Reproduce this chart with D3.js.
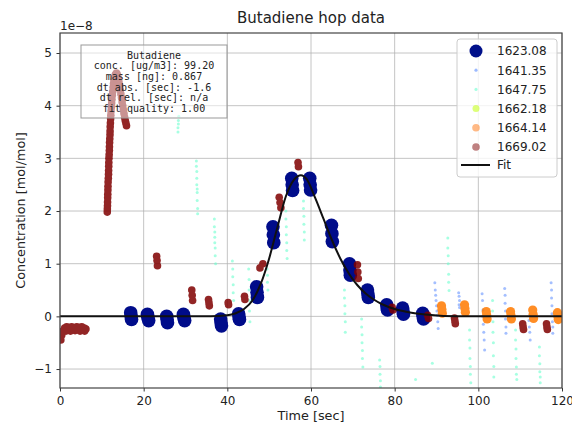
<!DOCTYPE html>
<html>
<head>
<meta charset="utf-8">
<script src="https://cdn.jsdelivr.net/npm/d3@7"></script>
<style>
  body { margin: 0; background: #fff; }
  svg text { font-family: "DejaVu Sans", sans-serif; fill: #222; }
</style>
</head>
<body>
<svg id="chart" width="572" height="427"></svg>
<script>
// values are in units of 1e-8 mol/mol, time in seconds

// 1623.08 - main peak, big navy markers
const s1623 = [
  [16.9,0.07],[17.0,0.0],[17.1,-0.06],
  [20.9,0.04],[21.0,-0.02],[21.2,-0.08],
  [25.5,0.0],[25.6,-0.06],[25.7,-0.12],
  [29.5,0.04],[29.6,-0.02],[29.8,-0.08],
  [38.4,-0.05],[38.5,-0.12],[38.6,-0.18],
  [42.7,0.05],[42.8,-0.01],[42.9,-0.06],
  [47.0,0.56],[47.1,0.46],[47.2,0.36],
  [50.9,1.7],[51.0,1.55],[51.1,1.4],
  [55.4,2.62],[55.5,2.5],[55.6,2.39],
  [59.7,2.62],[59.8,2.5],[59.9,2.4],
  [64.9,1.73],[65.0,1.57],[65.1,1.42],
  [69.2,1.0],[69.3,0.88],[69.4,0.78],
  [73.5,0.5],[73.6,0.43],[73.7,0.36],
  [78.1,0.22],[78.2,0.16],[78.3,0.12],
  [81.9,0.16],[82.0,0.1],[82.1,0.04],
  [86.7,0.06],[86.8,0.0],[86.9,-0.05]
];

// 1641.35 - tiny blue dots
const s1641 = [
  [89.6,0.64],[89.7,0.5],[89.8,0.4],[89.9,0.3],[90.0,0.2],[90.1,0.1],[90.2,0.02],[90.3,-0.1],[90.4,-0.23],
  [95.3,0.45],[95.4,0.38],[95.5,0.3],[95.4,0.22],[95.5,0.17],
  [100.9,0.43],[101.0,0.3],[101.1,0.12],[101.0,0.0],[101.2,-0.15],[101.3,-0.3],[101.4,-0.45],[101.5,-0.64],
  [106.3,0.53],[106.4,0.4],[106.4,0.25],[106.5,0.1],[106.5,-0.05],[106.6,-0.2],[106.6,-0.32],
  [112.1,-0.08],[112.2,-0.2],[112.3,-0.3],[112.4,-0.45],
  [117.4,0.64],[117.5,0.5],[117.5,0.35],[117.6,0.2],[117.6,0.05],[117.7,-0.1],[117.8,-0.2],[117.8,-0.32]
];

// 1647.75 - tiny aquamarine dots
const s1647 = [
  [28.2,3.5],[28.2,3.58],[28.3,3.65],[28.3,3.72],[28.4,3.8],
  [32.6,2.95],[32.6,2.85],[32.7,2.75],[32.7,2.62],[32.7,2.5],[32.8,2.42],[32.8,2.35],[32.8,2.2],[32.9,2.05],[32.9,1.95],
  [36.9,1.85],[36.9,1.7],[37.0,1.6],[37.0,1.5],[37.0,1.4],[37.1,1.3],[37.1,1.15],[37.2,1.0],
  [41.2,1.05],[41.3,0.9],[41.3,0.75],[41.4,0.6],[41.4,0.45],[41.5,0.3],
  [45.1,0.9],[45.2,0.7],[45.2,0.5],[45.3,0.3],[45.3,0.1],[45.4,-0.1],
  [49.5,0.9],[49.6,0.78],[49.6,0.65],[49.7,0.5],
  [54.0,2.0],[54.0,1.85],[54.1,1.7],[54.1,1.55],[54.2,1.4],[54.2,1.25],[54.3,1.1],
  [58.2,2.19],[58.2,2.05],[58.3,1.9],[58.3,1.75],[58.4,1.6],[58.4,1.45],
  [68.0,0.5],[68.0,0.35],[68.1,0.2],[68.1,0.05],[68.2,-0.1],[68.2,-0.3],
  [72.1,-0.05],[72.1,-0.2],[72.2,-0.35],[72.2,-0.5],[72.3,-0.65],[72.3,-0.8],[72.4,-0.96],
  [76.4,-0.83],[76.5,-0.95],[76.5,-1.1],[76.6,-1.22],[76.6,-1.34],
  [85.0,-1.2],[89.0,-0.89],
  [92.7,1.49],[92.7,1.3],[92.8,1.15],[92.8,1.0],[92.9,0.8],[92.9,0.65],[93.0,0.49],
  [97.9,-0.26],[97.9,-0.45],[98.0,-0.6],[98.0,-0.8],[98.1,-0.95],[98.1,-1.1],[98.2,-1.26],
  [103.4,0.3],[103.4,0.1],[103.5,-0.1],[103.5,-0.3],[103.6,-0.5],[103.6,-0.75],[103.7,-0.95],[103.7,-1.15],
  [108.9,-0.26],[108.9,-0.45],[109.0,-0.62],[109.0,-0.8],[109.1,-0.96],[109.1,-1.1],[109.2,-1.2],
  [114.6,-0.58],[114.6,-0.75],[114.7,-0.9],[114.7,-1.05],[114.8,-1.15],[114.8,-1.26]
];

// 1664.14 - orange markers
const s1664 = [
  [91.2,0.2],[91.3,0.13],[91.4,0.06],
  [96.7,0.22],[96.8,0.15],[96.9,0.08],
  [101.9,0.09],[102.0,0.02],[102.1,-0.05],
  [107.7,0.09],[107.8,0.02],[107.9,-0.05],
  [113.0,0.12],[113.1,0.04],[113.2,-0.04],
  [118.9,0.07],[119.0,0.0],[119.1,-0.06]
];

// 1669.02 - maroon markers
const s1669 = [
  [0.2,-0.45],[0.4,-0.36],[0.7,-0.28],[1.1,-0.22],[1.6,-0.2],[2.2,-0.21],[2.8,-0.2],[3.4,-0.22],
  [4.0,-0.2],[4.6,-0.21],[5.2,-0.2],[5.8,-0.22],[6.2,-0.24],
  [1.4,-0.28],[2.5,-0.28],[3.6,-0.27],[4.8,-0.28],[5.9,-0.28],
  [11.3,1.98],[11.32,2.04],[11.35,2.1],[11.37,2.17],[11.4,2.25],[11.42,2.32],[11.45,2.4],[11.47,2.47],
  [11.5,2.55],[11.55,2.62],[11.6,2.7],[11.62,2.77],[11.65,2.85],[11.67,2.92],[11.7,3.0],[11.75,3.07],
  [11.8,3.15],[11.82,3.22],[11.85,3.3],[11.9,3.37],[11.95,3.45],[11.97,3.52],[12.0,3.6],[12.05,3.67],
  [12.1,3.75],[12.15,3.82],[12.2,3.9],[12.27,3.97],[12.35,4.05],[12.42,4.12],[12.5,4.2],[12.6,4.27],
  [12.7,4.35],[12.8,4.42],[12.9,4.48],[13.05,4.53],[13.2,4.58],[13.35,4.6],[13.5,4.62],[13.65,4.6],
  [13.8,4.56],[13.95,4.5],[14.1,4.45],[14.25,4.38],[14.4,4.3],[14.55,4.22],[14.7,4.15],[14.85,4.07],
  [15.0,4.0],[15.15,3.92],[15.3,3.85],[15.45,3.78],[15.6,3.72],[15.75,3.67],[15.9,3.62],
  [23.1,1.14],[23.2,1.06],[23.3,0.96],
  [31.5,0.5],[31.6,0.4],[31.7,0.3],
  [35.5,0.32],[35.6,0.26],[35.7,0.2],
  [40.2,0.26],[40.3,0.22],
  [44.1,0.38],[44.2,0.32],
  [47.8,0.92],[48.5,1.0],
  [52.4,2.26],[52.6,2.16],[52.8,2.06],
  [56.9,2.92],[57.0,2.84],
  [71.1,0.98],[71.2,0.84],[71.3,0.72],
  [79.4,0.17],[79.6,0.12],
  [87.9,0.02],[88.1,-0.04],
  [94.3,-0.03],[94.4,-0.09],[94.5,-0.14],
  [110.6,-0.14],[110.7,-0.2],[110.8,-0.25],
  [116.3,-0.14],[116.4,-0.2],[116.5,-0.25]
];

// fit curve
const fitT = [0, 10, 20, 30, 36, 40, 42, 44, 46, 48, 50, 52, 54, 56, 57.6, 59, 61, 63, 65, 67, 69, 71, 73, 75, 77, 80, 84, 88, 95, 105, 120];
const fitV = [0, 0, 0, 0, 0, 0.02, 0.06, 0.14, 0.3, 0.62, 1.1, 1.7, 2.28, 2.6, 2.68, 2.6, 2.25, 1.85, 1.45, 1.1, 0.82, 0.6, 0.44, 0.32, 0.23, 0.14, 0.07, 0.03, 0.0, 0.0, 0.0];

const xTicks = [0, 20, 40, 60, 80, 100, 120];
const yTicks = [-1, 0, 1, 2, 3, 4, 5];

const infoLines = ["Butadiene", "conc. [ug/m3]: 99.20", "mass [ng]: 0.867", "dt abs. [sec]: -1.6", "dt rel. [sec]: n/a", "fit quality: 1.00"];

const legendItems = [
  {label: "1623.08", color: "#00108a", r: 6.5, op: 1, text: "#222"},
  {label: "1641.35", color: "#5a8cff", r: 1.6, op: 0.6, text: "#222"},
  {label: "1647.75", color: "#6effd0", r: 1.6, op: 0.6, text: "#222"},
  {label: "1662.18", color: "#cfff40", r: 3.5, op: 0.7, text: "#d0d0d0"},
  {label: "1664.14", color: "#ff8020", r: 3.8, op: 0.55, text: "#222"},
  {label: "1669.02", color: "#8b1a1a", r: 3.8, op: 0.55, text: "#222"}
];

const svg = d3.select("#chart");
const mLeft = 60, mRight = 562, mTop = 33, mBottom = 388;

const x = d3.scaleLinear().domain([0, 120]).range([mLeft, mRight]);
const y = d3.scaleLinear().domain([-1.36, 5.38]).range([mBottom, mTop]);

svg.append("defs").append("clipPath").attr("id", "clip")
  .append("rect").attr("x", mLeft).attr("y", mTop).attr("width", mRight - mLeft).attr("height", mBottom - mTop);

// grid
const grid = svg.append("g").attr("stroke", "#b0b0b0").attr("stroke-opacity", 0.75).attr("stroke-width", 1);
grid.selectAll(".gx").data(xTicks).enter().append("line")
  .attr("x1", d => x(d)).attr("x2", d => x(d)).attr("y1", mTop).attr("y2", mBottom);
grid.selectAll(".gy").data(yTicks).enter().append("line")
  .attr("y1", d => y(d)).attr("y2", d => y(d)).attr("x1", mLeft).attr("x2", mRight);

const plot = svg.append("g").attr("clip-path", "url(#clip)");

function dots(data, color, r, op) {
  plot.append("g").attr("opacity", op).selectAll("circle").data(data).enter().append("circle")
    .attr("cx", d => x(d[0])).attr("cy", d => y(d[1]))
    .attr("r", r).attr("fill", color);
}

dots(s1641, "#5a8cff", 1.5, 0.55);
dots(s1647, "#6effd0", 1.5, 0.6);
dots(s1623, "#000c8a", 6.8, 1);
dots(s1669, "#800000", 3.8, 0.85);
dots(s1664, "#ff7a00", 4.6, 0.85);

// fit line
const fitData = fitT.map((t, i) => [t, fitV[i]]);
plot.append("path").datum(fitData)
  .attr("fill", "none").attr("stroke", "#111").attr("stroke-width", 2)
  .attr("d", d3.line().x(d => x(d[0])).y(d => y(d[1])).curve(d3.curveMonotoneX));

// axes
const xAxis = svg.append("g").attr("transform", `translate(0,${mBottom})`)
  .call(d3.axisBottom(x).tickValues(xTicks).tickSize(3.5).tickPadding(4.5));
const yAxis = svg.append("g").attr("transform", `translate(${mLeft},0)`)
  .call(d3.axisLeft(y).tickValues(yTicks).tickSize(3.5).tickPadding(4.5).tickFormat(d => d < 0 ? "\u2212" + Math.abs(d) : d));
[xAxis, yAxis].forEach(a => {
  a.select(".domain").remove();
  a.selectAll("line").attr("stroke", "#333");
  a.selectAll("text").attr("font-size", 12).attr("fill", "#333").attr("font-family", "DejaVu Sans");
});

// frame
svg.append("rect").attr("x", mLeft).attr("y", mTop).attr("width", mRight - mLeft).attr("height", mBottom - mTop)
  .attr("fill", "none").attr("stroke", "#444").attr("stroke-width", 1.2);

// labels
svg.append("text").attr("x", (mLeft + mRight) / 2).attr("y", 23).attr("text-anchor", "middle")
  .attr("font-size", 15).text("Butadiene hop data");
svg.append("text").attr("x", (mLeft + mRight) / 2).attr("y", 420).attr("text-anchor", "middle")
  .attr("font-size", 12.8).text("Time [sec]");
svg.append("text").attr("transform", `translate(25,${(mTop + mBottom) / 2}) rotate(-90)`).attr("text-anchor", "middle")
  .attr("font-size", 12.8).text("Concentration [mol/mol]");
svg.append("text").attr("x", mLeft).attr("y", 30).attr("font-size", 12).attr("fill", "#333").text("1e\u22128");

// info box
svg.append("rect").attr("x", 81).attr("y", 45).attr("width", 146).attr("height", 73)
  .attr("fill", "#fff").attr("fill-opacity", 0.5).attr("stroke", "#999").attr("stroke-width", 1);
svg.append("g").selectAll("text").data(infoLines).enter().append("text")
  .attr("x", 154).attr("y", (d, i) => 58.5 + i * 10.7).attr("text-anchor", "middle")
  .attr("font-size", 10).attr("fill", "#444")
  .style("font-family", "'DejaVu Sans Mono', monospace")
  .text(d => d);

// legend
const lg = svg.append("g");
lg.append("rect").attr("x", 457).attr("y", 39).attr("width", 100).attr("height", 138).attr("rx", 3)
  .attr("fill", "#fff").attr("fill-opacity", 0.8).attr("stroke", "#ccc");
legendItems.forEach((it, i) => {
  const yy = 51 + i * 19.2;
  lg.append("circle").attr("cx", 476).attr("cy", yy).attr("r", it.r).attr("fill", it.color).attr("fill-opacity", it.op);
  lg.append("text").attr("x", 497).attr("y", yy + 4.3).attr("font-size", 12).attr("fill", it.text).text(it.label);
});
lg.append("line").attr("x1", 461).attr("x2", 490).attr("y1", 165).attr("y2", 165).attr("stroke", "#111").attr("stroke-width", 2);
lg.append("text").attr("x", 497).attr("y", 169).attr("font-size", 12).text("Fit");
</script>
</body>
</html>
